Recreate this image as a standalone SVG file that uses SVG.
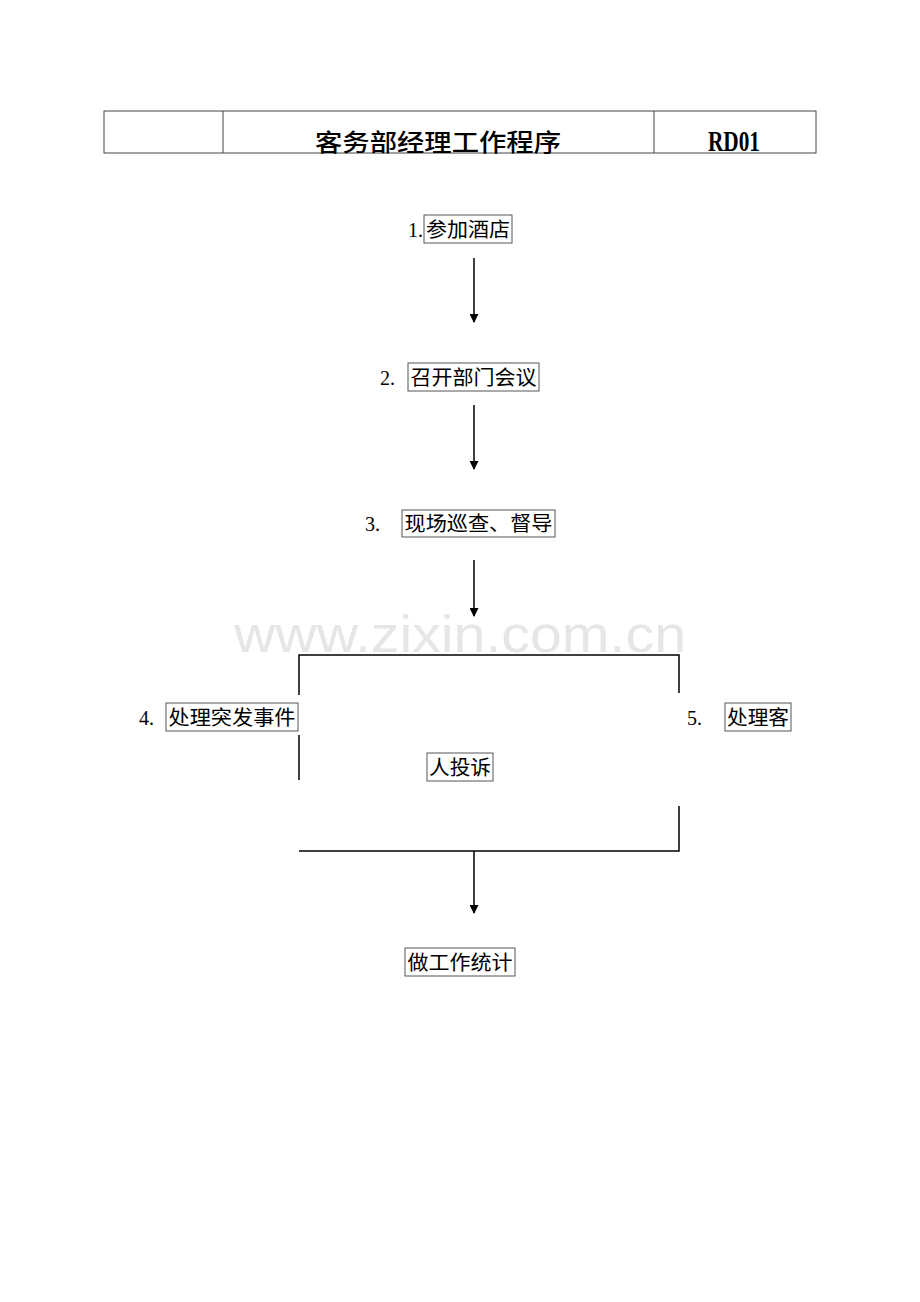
<svg xmlns="http://www.w3.org/2000/svg" width="920" height="1302" viewBox="0 0 920 1302">
<style>
.t{font-family:"Liberation Serif","Noto Sans CJK SC",serif;font-size:20px;fill:#000}
.n{font-family:"Liberation Serif",serif;font-size:20px;fill:#000}
.box{fill:#fff;stroke:#555;stroke-width:1}
.ln{stroke:#000;stroke-width:1.5;fill:none}
.hd{fill:none;stroke:#444;stroke-width:1}
</style>
<defs>
<marker id="ah" viewBox="0 0 10 10" refX="9" refY="5" markerWidth="10" markerHeight="9" markerUnits="userSpaceOnUse" orient="auto">
<path d="M0,0 L10,5 L0,10 z" fill="#000"/>
</marker>
</defs>
<rect width="920" height="1302" fill="#fff"/>
<g id="header">
<rect class="hd" x="104" y="111" width="712" height="42"/>
<line class="hd" x1="223" y1="111" x2="223" y2="153"/>
<line class="hd" x1="654" y1="111" x2="654" y2="153"/>
<text x="438" y="151" text-anchor="middle" font-family="'Noto Sans CJK SC',sans-serif" font-size="24" font-weight="500" textLength="246" lengthAdjust="spacingAndGlyphs">客务部经理工作程序</text>
<text x="734" y="151" text-anchor="middle" font-family="'Liberation Serif',serif" font-size="29" font-weight="bold" textLength="52" lengthAdjust="spacingAndGlyphs">RD01</text>
</g>
<text x="460" y="652" text-anchor="middle" font-family="'Liberation Sans',sans-serif" font-size="52" fill="#e6e6e6" textLength="452" lengthAdjust="spacingAndGlyphs">www.zixin.com.cn</text>
<g id="connectors">
<line class="ln" x1="474" y1="258" x2="474" y2="322" marker-end="url(#ah)"/>
<line class="ln" x1="474" y1="405" x2="474" y2="469" marker-end="url(#ah)"/>
<line class="ln" x1="474" y1="560" x2="474" y2="616" marker-end="url(#ah)"/>
<path class="ln" d="M299,695 V655 H679 V693"/>
<line class="ln" x1="299" y1="735" x2="299" y2="780"/>
<path class="ln" d="M679,806 V851 H299"/>
<line class="ln" x1="474" y1="851" x2="474" y2="913" marker-end="url(#ah)"/>
</g>
<g id="n1">
<text class="n" x="408" y="237">1.</text>
<rect class="box" x="424" y="215" width="88" height="28"/>
<text class="t" x="468" y="237" text-anchor="middle" textLength="84" lengthAdjust="spacingAndGlyphs">参加酒店</text>
</g>
<g id="n2">
<text class="n" x="380" y="385">2.</text>
<rect class="box" x="408" y="363" width="131" height="28"/>
<text class="t" x="473.5" y="385" text-anchor="middle" textLength="126" lengthAdjust="spacingAndGlyphs">召开部门会议</text>
</g>
<g id="n3">
<text class="n" x="365" y="531">3.</text>
<rect class="box" x="402" y="510" width="153" height="27"/>
<text class="t" x="478.5" y="531" text-anchor="middle" textLength="148" lengthAdjust="spacingAndGlyphs">现场巡查、督导</text>
</g>
<g id="n4">
<text class="n" x="139" y="725">4.</text>
<rect class="box" x="166" y="703" width="132" height="28"/>
<text class="t" x="232" y="725" text-anchor="middle" textLength="127" lengthAdjust="spacingAndGlyphs">处理突发事件</text>
</g>
<g id="n5">
<text class="n" x="687" y="725">5.</text>
<rect class="box" x="725" y="703" width="66" height="28"/>
<text class="t" x="758" y="725" text-anchor="middle" textLength="62" lengthAdjust="spacingAndGlyphs">处理客</text>
</g>
<g id="n5b">
<rect class="box" x="427" y="753" width="66" height="28"/>
<text class="t" x="460" y="775" text-anchor="middle" textLength="62" lengthAdjust="spacingAndGlyphs">人投诉</text>
</g>
<g id="n6">
<rect class="box" x="405" y="948" width="110" height="28"/>
<text class="t" x="460" y="970" text-anchor="middle" textLength="105" lengthAdjust="spacingAndGlyphs">做工作统计</text>
</g>
</svg>
